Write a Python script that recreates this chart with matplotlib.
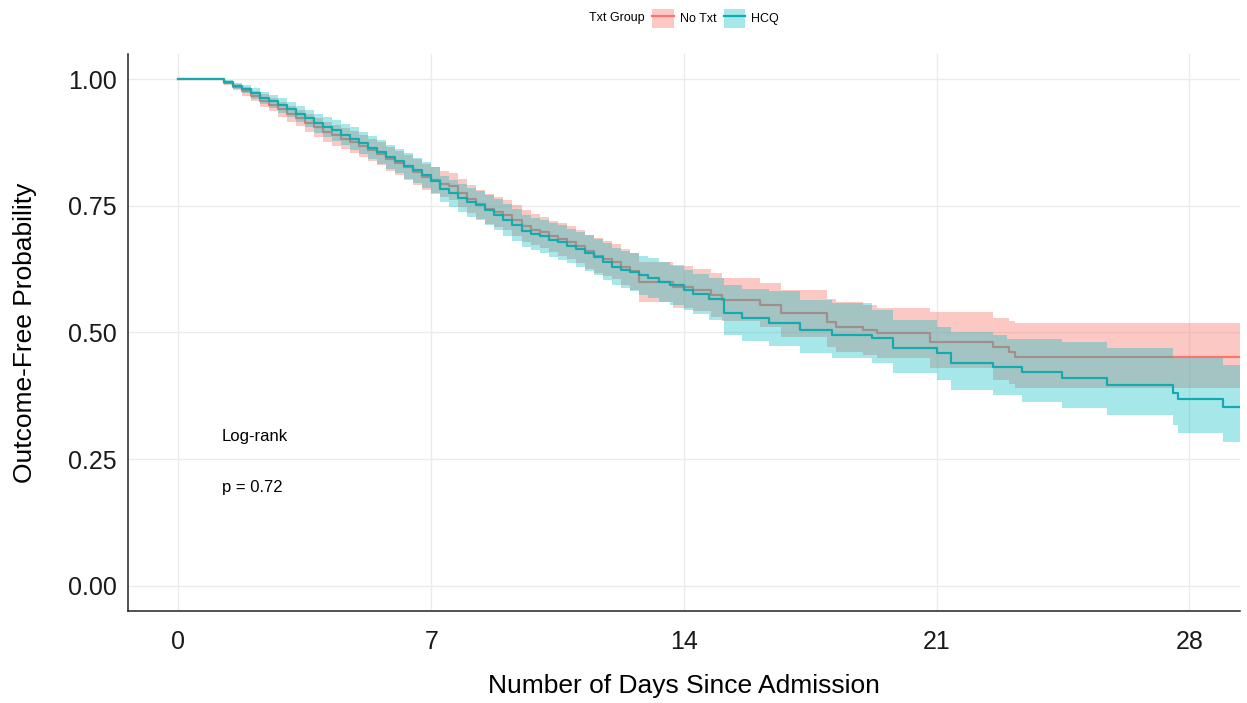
import matplotlib
matplotlib.use("Agg")
import matplotlib.pyplot as plt
from matplotlib.patches import Patch
from matplotlib.lines import Line2D

plt.rcParams["font.family"] = ["Liberation Sans", "DejaVu Sans"]

# No Txt group: time (days), survival estimate, 95% CI
notxt_day = [0, 1.0, 1.25, 1.5, 1.75, 2.0, 2.25, 2.5, 2.75, 3.0, 3.25, 3.5, 3.75,
             4.0, 4.25, 4.5, 4.75, 5.0, 5.25, 5.5, 5.75, 6.0, 6.25, 6.5, 6.75,
             7.0, 7.25, 7.5, 7.75, 8.0, 8.25, 8.5, 8.75, 9.0, 9.25, 9.5, 9.75,
             10.0, 10.25, 10.5, 10.75, 11.0, 11.25, 11.5, 11.75, 12.0, 12.25,
             12.5, 12.75, 13.7, 14.25, 14.75, 15.05, 16.1, 16.7, 17.95, 18.2,
             18.95, 19.35, 20.8, 22.56, 23.0, 23.17, 29.4]
notxt_surv = [1, 1, .992, .984, .976, .967, .958, .950, .941, .932, .924, .914, .905,
              .896, .890, .883, .876, .869, .861, .853, .843, .835, .826, .817, .808,
              .801, .793, .789, .776, .764, .754, .744, .738, .733, .722, .710, .703,
              .698, .690, .684, .678, .670, .660, .652, .646, .640, .630,
              .621, .600, .590, .584, .574, .564, .554, .538, .520, .511,
              .505, .499, .481, .471, .462, .452, .452]
notxt_lo = [1, 1, .988, .978, .968, .957, .946, .937, .926, .916, .907, .896, .886,
            .876, .869, .862, .854, .847, .838, .830, .819, .811, .801, .792, .782,
            .775, .767, .762, .748, .736, .725, .715, .709, .703, .691, .679, .672,
            .667, .658, .652, .645, .637, .626, .618, .611, .605, .594,
            .584, .560, .549, .542, .531, .522, .510, .492, .472, .462,
            .456, .449, .430, .406, .398, .390, .390]
notxt_hi = [1, 1, .996, .990, .984, .977, .970, .963, .955, .947, .940, .931, .923,
            .915, .910, .904, .897, .891, .883, .876, .866, .859, .850, .842, .833,
            .826, .819, .815, .803, .792, .782, .773, .767, .762, .752, .741, .734,
            .729, .721, .716, .710, .703, .693, .686, .680, .675, .665,
            .657, .640, .631, .626, .617, .607, .598, .584, .567, .560,
            .554, .548, .540, .528, .522, .519, .519]

# HCQ group
hcq_day = [0, 1.0, 1.25, 1.5, 1.75, 2.0, 2.25, 2.5, 2.75, 3.0, 3.25, 3.5, 3.75,
           4.0, 4.25, 4.5, 4.75, 5.0, 5.25, 5.5, 5.75, 6.0, 6.25, 6.5, 6.75,
           7.0, 7.25, 7.5, 7.75, 8.0, 8.25, 8.5, 8.75, 9.0, 9.25, 9.5, 9.75,
           10.0, 10.25, 10.5, 10.75, 11.0, 11.25, 11.5, 11.75, 12.0, 12.25,
           12.5, 12.75, 13.0, 13.3, 13.6, 14.0, 14.25, 14.7, 15.1, 15.6, 16.35,
           17.2, 18.1, 19.2, 19.8, 21.0, 21.4, 22.56, 22.95, 23.36, 24.47,
           25.72, 27.55, 27.69, 28.94, 29.4]
hcq_surv = [1, 1, .994, .987, .980, .972, .964, .957, .949, .941, .932, .923, .913,
            .906, .899, .891, .883, .874, .865, .857, .846, .838, .829, .820, .811,
            .800, .783, .775, .766, .757, .751, .742, .733, .722, .712, .700, .695,
            .690, .683, .678, .671, .664, .657, .649, .640, .630, .624,
            .619, .613, .608, .600, .594, .584, .576, .566, .538, .528, .519,
            .505, .495, .489, .469, .460, .440, .432, .432, .422, .410,
            .396, .380, .369, .353, .353]
hcq_lo = [1, 1, .990, .981, .972, .962, .952, .944, .934, .925, .915, .905, .894,
          .886, .878, .870, .861, .852, .842, .833, .822, .814, .804, .795, .785,
          .774, .757, .748, .738, .728, .722, .712, .702, .691, .681, .668, .663,
          .657, .650, .644, .637, .629, .622, .613, .604, .593, .587,
          .581, .575, .569, .561, .554, .544, .536, .525, .495, .484, .474,
          .459, .450, .440, .420, .406, .387, .377, .377, .363, .351,
          .337, .318, .302, .284, .284]
hcq_hi = [1, 1, .998, .993, .988, .982, .975, .969, .963, .956, .948, .940, .931,
          .925, .919, .912, .905, .896, .888, .880, .870, .862, .854, .845, .837,
          .826, .810, .802, .794, .786, .780, .772, .764, .753, .744, .732, .727,
          .723, .716, .712, .705, .699, .692, .685, .676, .667, .661,
          .657, .651, .647, .639, .634, .624, .616, .607, .594, .586, .581,
          .565, .558, .544, .525, .511, .500, .495, .487, .487, .482,
          .469, .450, .450, .436, .436]

red = "#F8766D"
teal = "#00BFC4"
teal_line = "#14AAAE"

fig = plt.figure(figsize=(12.47, 7.03), dpi=100)
ax = fig.add_axes([0.1026, 0.1309, 0.8918, 0.7923])

# red group first, so the teal band sits over the red line (as in the original)
ax.fill_between(notxt_day, notxt_lo, notxt_hi, step="post",
                color=red, alpha=0.4, linewidth=0, zorder=2)
ax.step(notxt_day, notxt_surv, where="post", color=red, linewidth=1.6, zorder=3)
ax.fill_between(hcq_day, hcq_lo, hcq_hi, step="post",
                color=teal, alpha=0.35, linewidth=0, zorder=4)
ax.step(hcq_day, hcq_surv, where="post", color=teal_line, linewidth=1.6, zorder=5)

ax.set_xlim(-1.4, 29.4)
ax.set_ylim(-0.05, 1.05)
ax.set_xticks([0, 7, 14, 21, 28])
ax.set_yticks([0, 0.25, 0.5, 0.75, 1.0])
ax.set_yticklabels(["0.00", "0.25", "0.50", "0.75", "1.00"])
ax.tick_params(length=0, labelsize=18, labelcolor="#1a1a1a")
ax.tick_params(axis="x", pad=14)
ax.tick_params(axis="y", pad=8)
ax.grid(True, color="#EBEBEB", linewidth=1, zorder=0)
ax.set_axisbelow(True)
for side in ["top", "right"]:
    ax.spines[side].set_visible(False)
for side in ["left", "bottom"]:
    ax.spines[side].set_color("#222222")
    ax.spines[side].set_linewidth(1.1)

ax.set_xlabel("Number of Days Since Admission", fontsize=19, labelpad=14)
ax.set_ylabel("Outcome-Free Probability", fontsize=19, labelpad=22)

ax.text(1.2, 0.295, "Log-rank", fontsize=12, va="center", ha="left", zorder=6)
ax.text(1.2, 0.193, "p = 0.72", fontsize=12, va="center", ha="left", zorder=6)

# legend at the top
fig.text(0.517, 0.974, "Txt Group", fontsize=9, ha="right", va="center")
handles = [
    (Patch(facecolor=red, alpha=0.4, linewidth=0), Line2D([], [], color=red, linewidth=1.6)),
    (Patch(facecolor=teal, alpha=0.35, linewidth=0), Line2D([], [], color=teal_line, linewidth=1.6)),
]
fig.legend(handles, ["No Txt", "HCQ"], loc="center", bbox_to_anchor=(0.574, 0.974),
           ncol=2, frameon=False, fontsize=9, handlelength=1.7, handleheight=1.9,
           handletextpad=0.5, columnspacing=0.6, borderpad=0)

fig.savefig("out.png", dpi=100)
